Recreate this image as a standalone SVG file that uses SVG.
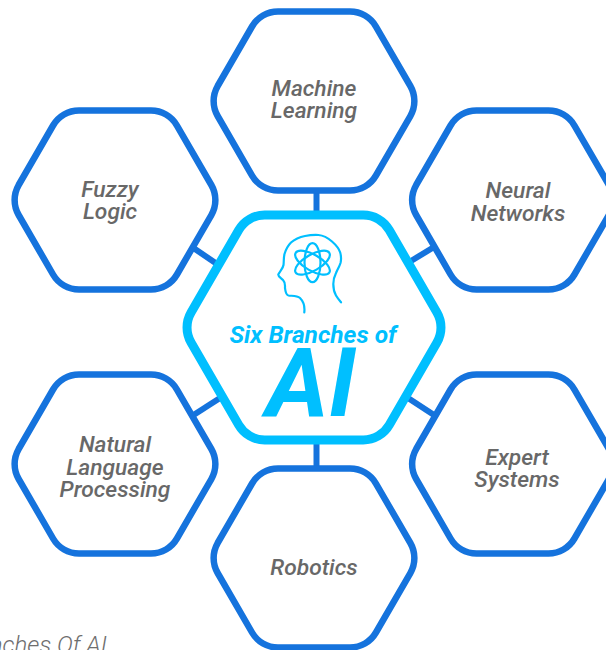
<svg xmlns="http://www.w3.org/2000/svg" width="606" height="650" viewBox="0 0 606 650">
<style>
.hex{fill:#fff;stroke:#1573dd;stroke-width:6.500}
.core{fill:#fff;stroke:#00bfff;stroke-width:9}
.lbl{font-family:Roboto,"Liberation Sans",sans-serif;font-style:italic;font-weight:500;font-size:22.800px;fill:#686868;text-anchor:middle}
.conn{stroke:#1573dd;stroke-width:6;fill:none}
.ic{fill:none;stroke:#00bfff;stroke-width:2.200;stroke-linecap:round;stroke-linejoin:round}
.ttl{font-family:Roboto,"Liberation Sans",sans-serif;font-style:italic;font-weight:700;fill:#00bfff;text-anchor:middle}
.cap{font-family:Roboto,"Liberation Sans",sans-serif;font-style:italic;font-weight:300;font-size:24px;fill:#6e6e6e;text-anchor:end}
</style>
<rect width="606" height="650" fill="#fff"/>
<g id="connectors">
<path class="conn" d="M316.500 191V216"/>
<path class="conn" d="M316.500 440V470"/>
<path class="conn" d="M192 247L217 264"/>
<path class="conn" d="M434 247L411 261"/>
<path class="conn" d="M192 416L220 398"/>
<path class="conn" d="M434 415L408 398"/>
</g>
<g id="node-machine-learning">
<path class="hex" transform="translate(314 101)" d="M-96.350 -15L-61.950 -74.500A30 30 0 0 1 -36 -89.500H36A30 30 0 0 1 61.950 -74.500L96.350 -15A30 30 0 0 1 96.350 15L61.950 74.500A30 30 0 0 1 36 89.500H-36A30 30 0 0 1 -61.950 74.500L-96.350 15A30 30 0 0 1 -96.350 -15Z"/>
<text class="lbl" x="314" y="96">Machine</text><text class="lbl" x="314" y="118">Learning</text>
</g>
<g id="node-fuzzy-logic">
<path class="hex" transform="translate(115 200)" d="M-96.350 -15L-61.950 -74.500A30 30 0 0 1 -36 -89.500H36A30 30 0 0 1 61.950 -74.500L96.350 -15A30 30 0 0 1 96.350 15L61.950 74.500A30 30 0 0 1 36 89.500H-36A30 30 0 0 1 -61.950 74.500L-96.350 15A30 30 0 0 1 -96.350 -15Z"/>
<text class="lbl" x="110" y="197">Fuzzy</text><text class="lbl" x="110" y="219">Logic</text>
</g>
<g id="node-neural-networks">
<path class="hex" transform="translate(512.500 200)" d="M-96.350 -15L-61.950 -74.500A30 30 0 0 1 -36 -89.500H36A30 30 0 0 1 61.950 -74.500L96.350 -15A30 30 0 0 1 96.350 15L61.950 74.500A30 30 0 0 1 36 89.500H-36A30 30 0 0 1 -61.950 74.500L-96.350 15A30 30 0 0 1 -96.350 -15Z"/>
<text class="lbl" x="518" y="198">Neural</text><text class="lbl" x="518" y="221">Networks</text>
</g>
<g id="node-nlp">
<path class="hex" transform="translate(115 464)" d="M-96.350 -15L-61.950 -74.500A30 30 0 0 1 -36 -89.500H36A30 30 0 0 1 61.950 -74.500L96.350 -15A30 30 0 0 1 96.350 15L61.950 74.500A30 30 0 0 1 36 89.500H-36A30 30 0 0 1 -61.950 74.500L-96.350 15A30 30 0 0 1 -96.350 -15Z"/>
<text class="lbl" x="115" y="452">Natural</text><text class="lbl" x="115" y="475">Language</text><text class="lbl" x="115" y="497">Processing</text>
</g>
<g id="node-expert-systems">
<path class="hex" transform="translate(512.500 464)" d="M-96.350 -15L-61.950 -74.500A30 30 0 0 1 -36 -89.500H36A30 30 0 0 1 61.950 -74.500L96.350 -15A30 30 0 0 1 96.350 15L61.950 74.500A30 30 0 0 1 36 89.500H-36A30 30 0 0 1 -61.950 74.500L-96.350 15A30 30 0 0 1 -96.350 -15Z"/>
<text class="lbl" x="517" y="465">Expert</text><text class="lbl" x="517" y="487">Systems</text>
</g>
<g id="node-robotics">
<path class="hex" transform="translate(314 558)" d="M-96.350 -15L-61.950 -74.500A30 30 0 0 1 -36 -89.500H36A30 30 0 0 1 61.950 -74.500L96.350 -15A30 30 0 0 1 96.350 15L61.950 74.500A30 30 0 0 1 36 89.500H-36A30 30 0 0 1 -61.950 74.500L-96.350 15A30 30 0 0 1 -96.350 -15Z"/>
<text class="lbl" x="314" y="575">Robotics</text>
</g>
<g id="node-center">
<path class="core" transform="translate(314 327.500)" d="M-122.950 -15L-75.250 -97.500A30 30 0 0 1 -49.300 -112.500H49.300A30 30 0 0 1 75.250 -97.500L122.950 -15A30 30 0 0 1 122.950 15L75.250 97.500A30 30 0 0 1 49.300 112.500H-49.300A30 30 0 0 1 -75.250 97.500L-122.950 15A30 30 0 0 1 -122.950 -15Z"/>
<path class="ic" d="M304.300 312.300C305 306 303 301 300 298C297 295.500 292 296 288.500 295.500C285.500 295 285.500 291 285 288C285 284 285.500 282.500 283 280C281 278 278 276.500 278.300 274.500C278.800 272.500 283 269 283.500 265C284 261 283.500 258 284.500 254C286 249 288 245.500 291 242.500C295 239 300 237 305 236C310 235 314 234.800 318.500 235C324 235.500 328 238 332 241.500C336 245 339 248.500 340.200 252.500C341.300 256.500 341.500 259 340.500 263C339.300 267 337.500 269 336 273C334 277 333.300 280 333.300 284C333.300 289 334 292 336 295.500C337.500 298 339.500 300.500 341 302.300"/>
<g class="ic"><ellipse cx="312.500" cy="262.700" rx="8" ry="19.500"/><ellipse cx="312.500" cy="262.700" rx="8" ry="19.500" transform="rotate(60 312.500 262.700)"/><ellipse cx="312.500" cy="262.700" rx="8" ry="19.500" transform="rotate(-60 312.500 262.700)"/></g>
<text class="ttl" x="313" y="343" font-size="24.500">Six Branches of</text>
<text class="ttl" x="311" y="416" font-size="96">AI</text>
</g>
<text class="cap" x="107" y="653">Branches Of AI</text>
</svg>
